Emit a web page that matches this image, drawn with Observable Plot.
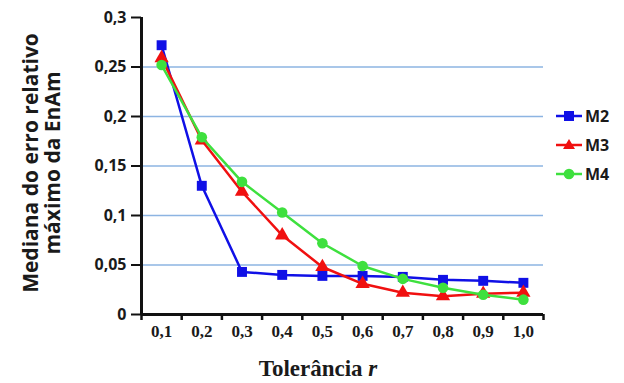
<!DOCTYPE html>
<html><head><meta charset="utf-8">
<script src="https://cdn.jsdelivr.net/npm/d3@7"></script>
<script src="https://cdn.jsdelivr.net/npm/@observablehq/plot@0.6"></script>
<style>
body{margin:0;background:#fff;}
#wrap{position:relative;width:624px;height:383px;overflow:hidden;}
#ylab{position:absolute;left:41px;top:163px;transform:translate(-50%,-50%) rotate(-90deg);white-space:nowrap;text-align:center;font:bold 21px "Open Sans",sans-serif;line-height:22px;color:#1a1a1a;}
#xlab{position:absolute;left:318px;top:356px;transform:translateX(-50%);white-space:nowrap;font:bold 23px "Liberation Serif",serif;line-height:25px;color:#1a1a1a;}
#legend{position:absolute;left:555px;top:101px;font:bold 16px "Open Sans",sans-serif;color:#1a1a1a;}
#legend .row{display:flex;align-items:center;height:29px;}
#legend svg{margin-right:2px;}
</style></head>
<body><div id="wrap"><div id="chart"></div>
<div id="ylab">Mediana do erro relativo<br>máximo da EnAm</div>
<div id="xlab">Tolerância <i>r</i></div>
<div id="legend"></div></div>
<script>
const tolerance = [0.1,0.2,0.3,0.4,0.5,0.6,0.7,0.8,0.9,1.0];
const xTickLabels = ["0,1","0,2","0,3","0,4","0,5","0,6","0,7","0,8","0,9","1,0"];
const seriesNames = ["M2","M3","M4"];
const M2 = [0.272,0.130,0.043,0.040,0.039,0.039,0.038,0.035,0.034,0.032];
const M3 = [0.259,0.176,0.124,0.080,0.048,0.031,0.022,0.0185,0.021,0.022];
const M4 = [0.252,0.179,0.134,0.103,0.072,0.049,0.036,0.027,0.020,0.015];
const yTicks = [0,0.05,0.1,0.15,0.2,0.25,0.3];
const gridTicks = [0.05,0.1,0.15,0.2,0.25];
const colors = {M2:"#1010e6", M3:"#f01010", M4:"#3ee03e"};
const symbols = {M2:"square", M3:"triangle", M4:"circle"};
const sizes = {M2:5.6, M3:5.3, M4:5.3};

const values = {M2, M3, M4};
const data = [];
for (const s of seriesNames) tolerance.forEach((t,i)=>data.push({series:s, x:t, y:values[s][i]}));
const bounds = tolerance.map(t=>+(t-0.05).toFixed(2)).concat([1.05]);
const fmtY = d => d===0 ? "0" : String(+d.toFixed(2)).replace(".",",");

const marks = [
  Plot.gridY(gridTicks, {stroke:"#8db4e2", strokeOpacity:1, strokeWidth:1.5}),
  Plot.axisY(yTicks, {tickFormat:fmtY, tickSize:10, tickPadding:5, fontSize:16, fontWeight:"bold", fontFamily:"'Open Sans',sans-serif", stroke:"#111", strokeWidth:2, fill:"#1a1a1a", label:null}),
  Plot.axisX(bounds, {tickFormat:()=>"", tickSize:6, stroke:"#111", strokeWidth:2.5, label:null}),
  Plot.axisX(tolerance, {tickFormat:(d,i)=>xTickLabels[i], tickSize:0, tickPadding:10, fontSize:17, fontWeight:"bold", fontFamily:"'Liberation Serif',serif", fill:"#1a1a1a", label:null}),
  Plot.ruleX([0.05], {stroke:"#111", strokeWidth:3}),
  Plot.ruleY([0], {stroke:"#111", strokeWidth:3})
];
for (const s of seriesNames) {
  const d = data.filter(r=>r.series===s);
  marks.push(Plot.line(d, {x:"x", y:"y", stroke:colors[s], strokeWidth:2.5}));
  marks.push(Plot.dot(d, {x:"x", y:"y", symbol:()=>symbols[s], fill:colors[s], stroke:null, r:sizes[s]}));
}

const chart = Plot.plot({
  width:624, height:383,
  marginLeft:141, marginRight:81, marginTop:17, marginBottom:69,
  x:{domain:[0.05,1.05], axis:null},
  y:{domain:[0,0.3], axis:null},
  symbol:{type:"identity"},
  style:{background:"transparent"},
  marks
});
document.getElementById("chart").appendChild(chart);

const leg = document.getElementById("legend");
const shapes = {
  M2:c=>`<rect x="9" y="4" width="10" height="10" fill="${c}"/>`,
  M3:c=>`<path d="M14,3 L20,13 L8,13Z" fill="${c}"/>`,
  M4:c=>`<circle cx="14" cy="9" r="5.3" fill="${c}"/>`
};
for (const s of seriesNames) {
  const row = document.createElement("div");
  row.className = "row";
  row.innerHTML = `<svg width="28" height="18"><line x1="1" x2="27" y1="9" y2="9" stroke="${colors[s]}" stroke-width="2.5"/>${shapes[s](colors[s])}</svg><span>${s}</span>`;
  leg.appendChild(row);
}
</script></body></html>
